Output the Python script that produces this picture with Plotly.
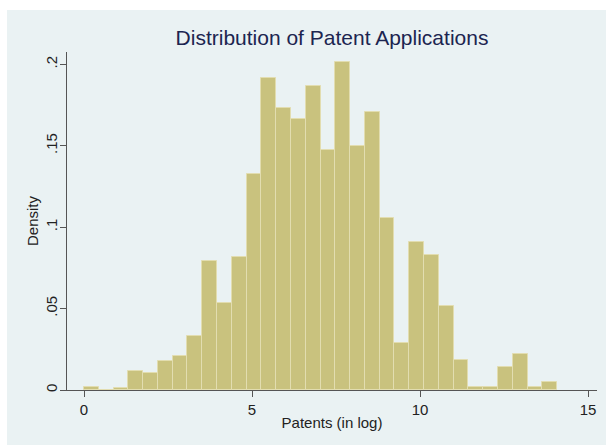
import plotly.graph_objects as go

# Histogram of log patent applications: 32 equal-width bins starting at 0
bin_start = 0.0
bin_width = 0.44
density = [
    0.002, 0.000, 0.001, 0.0115, 0.0103, 0.018, 0.021, 0.033,
    0.079, 0.0533, 0.0817, 0.1328, 0.1919, 0.173, 0.1664, 0.1867,
    0.1476, 0.2013, 0.150, 0.1705, 0.1058, 0.0289, 0.0908, 0.083,
    0.0518, 0.0182, 0.002, 0.002, 0.0143, 0.0223, 0.002, 0.0047,
]
x_ticks = [0, 5, 10, 15]
y_ticks = [0, 0.05, 0.1, 0.15, 0.2]
y_tick_text = ["0", ".05", ".1", ".15", ".2"]

centers = [bin_start + bin_width * (i + 0.5) for i in range(len(density))]

FONT = "Liberation Sans, Arial, sans-serif"
OUTER = "#eaf2f3"
AXIS = "#555555"

fig = go.Figure(
    go.Bar(
        x=centers,
        y=density,
        width=bin_width,
        marker=dict(color="#c9c27e", line=dict(color="#e2ddb0", width=1)),
    )
)

fig.update_layout(
    width=606,
    height=445,
    margin=dict(l=67, r=9, t=52, b=55),
    paper_bgcolor="white",
    plot_bgcolor="white",
    showlegend=False,
    bargap=0,
    font=dict(family=FONT, size=15, color="#222222"),
    title=dict(
        text="Distribution of Patent Applications",
        x=0.5,
        xref="paper",
        xanchor="center",
        y=1 - 38 / 445,
        yanchor="middle",
        font=dict(family=FONT, size=21, color="#1c2550"),
    ),
    shapes=[
        dict(
            type="rect", xref="paper", yref="paper", layer="below",
            x0=(7 - 67) / 530, x1=(606 - 67) / 530 + 0.01,
            y0=-(445 - 390) / 338 - 0.01, y1=(390 - 10) / 338,
            fillcolor=OUTER, line=dict(width=0),
        )
    ],
)

fig.update_xaxes(
    range=[-0.506, 15.268],
    tickvals=x_ticks,
    ticks="outside",
    ticklen=6,
    tickcolor=AXIS,
    showline=True,
    linecolor=AXIS,
    linewidth=1,
    showgrid=False,
    zeroline=False,
    title=dict(text="Patents (in log)", standoff=0, font=dict(size=15)),
    tickfont=dict(size=15),
)

fig.update_yaxes(
    range=[0, 0.2076],
    tickvals=y_ticks,
    ticktext=y_tick_text,
    tickangle=-90,
    ticks="outside",
    ticklen=6,
    tickcolor=AXIS,
    ticklabelstandoff=-3,
    showline=True,
    linecolor=AXIS,
    linewidth=1,
    showgrid=True,
    gridcolor=OUTER,
    gridwidth=1,
    zeroline=False,
    title=dict(text="Density", standoff=0, font=dict(size=15)),
    tickfont=dict(size=15),
)

fig.write_html("out.html")
